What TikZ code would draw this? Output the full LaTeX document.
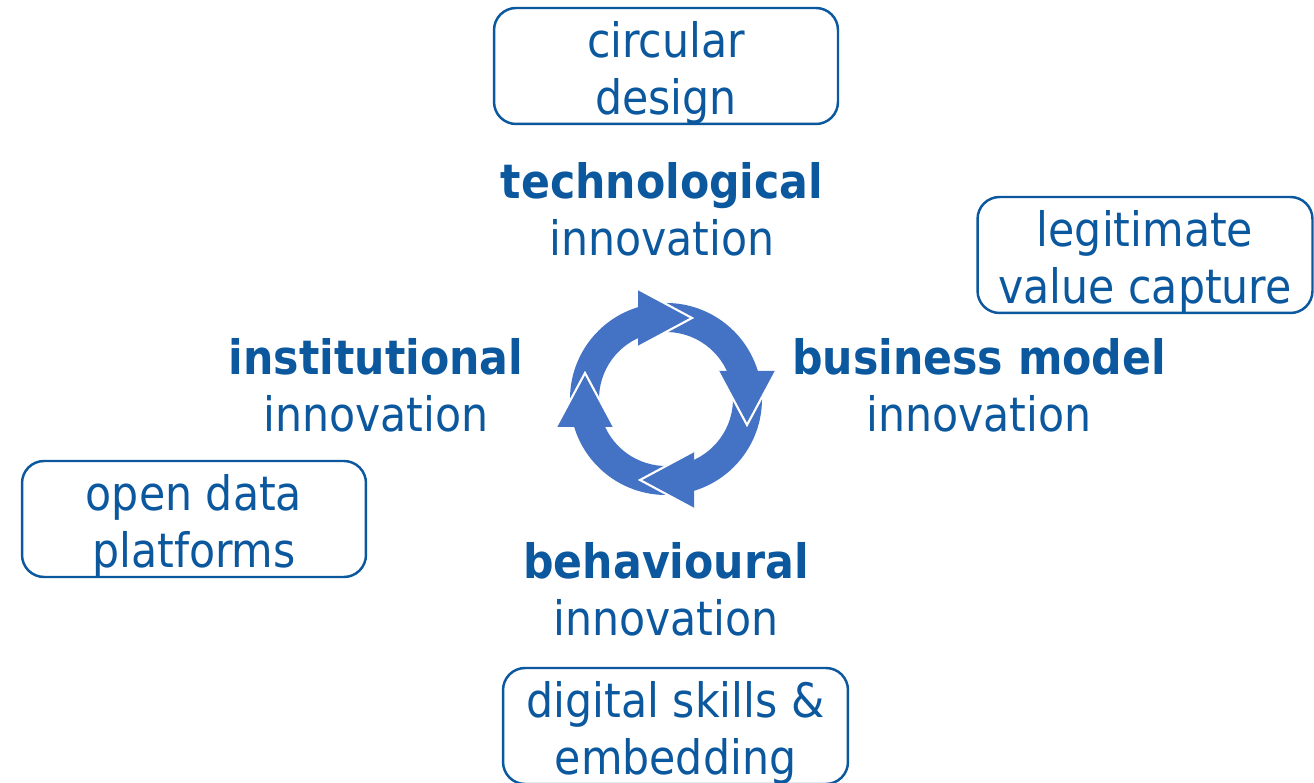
\documentclass[tikz,border=0pt]{standalone}
\usepackage{fontspec}
\setmainfont{DejaVu Sans Condensed}
\usetikzlibrary{positioning}
\definecolor{txtblue}{RGB}{12,88,158}
\definecolor{pfeilblau}{RGB}{68,114,196}
\newcommand{\oben}{\rule{0pt}{28pt}}
\tikzstyle{rahmen}=[draw=txtblue, line width=1.4pt, rounded corners=0.44cm,
  minimum width=6.88cm, minimum height=2.32cm, align=center, text=txtblue,
  inner sep=0pt, font=\fontsize{27}{32.3}\selectfont]
\tikzstyle{feld}=[align=center, text=txtblue, inner sep=0pt,
  font=\fontsize{27}{32.3}\selectfont]

\begin{document}
\begin{tikzpicture}[x=0.02cm,y=0.02cm]
			\useasboundingbox (0,0) rectangle (1314,783);
			% Innovationsfelder
			\node[feld] (tech) at (662,574) {\textbf{technological}\\innovation};
			\node[feld] (bm) at (979,398) {\textbf{business model}\\innovation};
			\node[feld] (inst) at (376,398) {\textbf{institutional}\\innovation};
			\node[feld] (behav) at (666,194) {\textbf{behavioural}\\innovation};
			% Kaesten
			\node[rahmen] (design) at (666,717) {\oben circular\\design};
			\node[rahmen, minimum width=6.7cm] (value) at (1145,528) {\oben legitimate\\value capture};
			\node[rahmen] (data) at (194,264) {\oben open data\\platforms};
			\node[rahmen, minimum width=6.9cm] (skills) at (675.5,57) {\oben digital skills \&\\embedding};
			% Kreislauf
			\begin{scope}[shift={(666,384)}]
				\foreach \r in {0,-90,-180,-270}
					\fill[pfeilblau, rotate=\r] (182:96) arc[start angle=182, end angle=106, radius=96]
						-- (106:67) arc[start angle=106, end angle=182, radius=67] -- cycle;
				\foreach \r in {0,-90,-180,-270} {
					\fill[pfeilblau, rotate=\r] (-28,52) -- (26,81) -- (-28,110) -- cycle;
					\draw[white, line width=1.2pt, line join=miter, rotate=\r] (-28,52) -- (26,81) -- (-28,110);
				}
			\end{scope}
		\end{tikzpicture}
\end{document}
